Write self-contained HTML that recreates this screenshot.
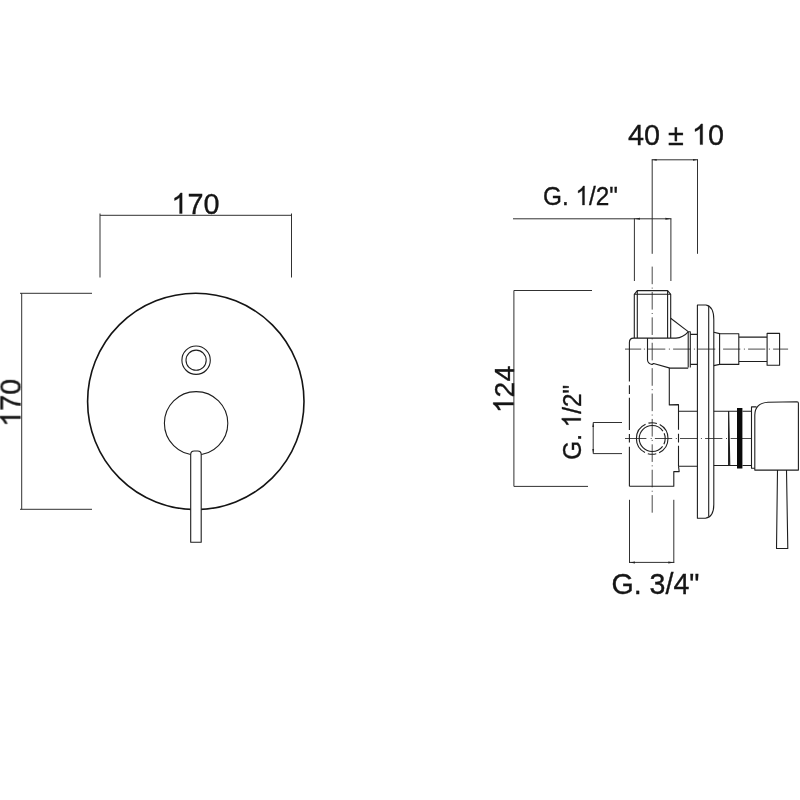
<!DOCTYPE html>
<html><head><meta charset="utf-8">
<style>
html,body{margin:0;padding:0;background:#fff;}
svg{display:block;}
text{font-family:"Liberation Sans",sans-serif;fill:#151515;stroke:#151515;stroke-width:0.35;}
#one{stroke:#151515;stroke-width:25;}
.o{stroke:#1e1e1e;stroke-width:1.1;fill:none;stroke-linecap:butt;stroke-linejoin:round;}
.w{fill:#fff;}
.d{stroke:#262626;stroke-width:0.95;fill:none;}
.c{stroke:#2a2a2a;stroke-width:0.85;fill:none;}
.a{fill:#222;stroke:none;}
</style></head><body>
<svg width="800" height="800" viewBox="0 0 800 800">
<rect width="800" height="800" fill="#fff"/>
<defs><path id="one" d="M763 0H583V1147Q518 1085 412.5 1023Q307 961 223 930V1104Q374 1175 487 1276Q600 1377 647 1472H763Z"/></defs>


<!-- ===== LEFT VIEW ===== -->
<g id="left">
<path class="d" d="M100 213.5V277.5M291.5 213.5V277.5M100 215.3H291.5"/>
<path class="d" d="M21.7 293.3V509.3M20 293.3H92M20 509.3H92"/>
<g opacity="0.999">
<g transform="translate(171.4,213.6)"><use href="#one" fill="#151515" transform="translate(0.000,0) scale(0.014063,-0.014063)"/><text x="16.017" y="0" font-size="28.8">70</text></g>
<g transform="translate(20.5,402.8) rotate(-90) translate(-24.025,0)"><use href="#one" fill="#151515" transform="translate(0.000,0) scale(0.014063,-0.014063)"/><text x="16.017" y="0" font-size="28.8">70</text></g>
</g>
<circle class="o" cx="195.8" cy="401.4" r="108.2" style="stroke-width:1.6;stroke:#141414"/>
<circle class="o" cx="196.1" cy="360.2" r="14.2"/>
<circle class="o" cx="196.1" cy="360.2" r="10.1"/>
<circle class="o" cx="196.1" cy="423.3" r="31.7"/>
<path class="o w" d="M190.7 542.2V454.5Q190.7 451 194.2 451H197.7Q201.2 451 201.2 454.5V542.2Z"/>
</g>

<!-- ===== RIGHT VIEW ===== -->
<g id="right">
<!-- dims -->
<g opacity="0.999">
<g transform="translate(628.06,144.6)"><text x="0" y="0" font-size="28.8" xml:space="preserve">40 ± </text><use href="#one" fill="#151515" transform="translate(63.840,0) scale(0.014063,-0.014063)"/><text x="79.86" y="0" font-size="28.8">0</text></g>
<g transform="translate(543,205) scale(0.9193,1)"><text x="0" y="0" font-size="26.5">G.</text><use href="#one" fill="#151515" transform="translate(35.330,0) scale(0.012939,-0.012939)"/><text x="50.07" y="0" font-size="26.5">/2"</text></g>
<g transform="translate(513.6,389.5) rotate(-90) translate(-23.69,0)"><use href="#one" fill="#151515" transform="translate(0.000,0) scale(0.013867,-0.013867)"/><text x="15.795" y="0" font-size="28.4">24</text></g>
<g transform="translate(580.8,422.3) rotate(-90) scale(0.9157,1) translate(-40.79,0)"><text x="0" y="0" font-size="26.5">G.</text><use href="#one" fill="#151515" transform="translate(35.330,0) scale(0.012939,-0.012939)"/><text x="50.07" y="0" font-size="26.5">/2"</text></g>
<text x="655.5" y="594" font-size="28.6" text-anchor="middle">G. 3/4"</text>
</g>
<path class="d" d="M651.8 159.8H697.9M652.2 159.4V253.8M697.5 159.4V253.8"/>
<path class="a" d="M652.2 159.8l4.5 -0.9v1.8zM697.5 159.8l-4.5 -0.9v1.8z"/>
<path class="d" d="M513 218.8H671.3M634.4 218.4V281M670.9 218.4V281"/>
<path class="a" d="M634.4 218.8l5.5 -1v2zM670.9 218.8l-5.5 -1v2z"/>
<path class="d" d="M513.9 290.5V486.4M513.9 290.5H592M513.9 486.4H588"/>
<path class="d" d="M593.2 422.5V453.6M593.2 422.5H622M593.2 453.6H622"/>
<path class="a" d="M593.2 422.5l-0.9 4.5h1.8zM593.2 453.6l-0.9 -4.5h1.8z"/>
<path class="d" d="M629.5 499.8V562.9M673.8 499.8V562.9M629.1 562.4H674.2"/>
<path class="a" d="M629.5 562.4l5.5 -1v2zM673.8 562.4l-5.5 -1v2z"/>

<!-- centre lines -->
<path class="c" d="M652.2 266.6V512.7" stroke-dasharray="17.6 3.4 1 3.39"/>
<path class="c" d="M625 349.1H641.2"/>
<path class="c" d="M643.9 349.1H788.1" stroke-dasharray="1 3.2 17.2 3.6"/>
<path class="c" d="M625 438.5H646.4"/>
<path class="c" d="M650.7 438.5H727" stroke-dasharray="1 3.2 17.3 3.6"/>
<path class="c" d="M730.6 438.5H751.4"/>

<!-- top pipe -->
<path class="o" d="M634.3 338V294.3L637.3 290.6H667.6L670.7 294.3V338"/>
<path class="o" d="M637.3 291V338M667.6 291V338M634.3 294.3H670.7"/>
<!-- body -->
<path class="o" d="M629.4 381.5V342.5Q629.4 338.1 633.5 338.1H676Q683 337.6 688.2 331.8"/>
<path class="o" d="M629.4 385.2V394M629.4 397.8V430M629.4 434V442.5M629.4 446.8V486.2"/>
<path class="o" d="M629.4 486.2H673.8V471.6H679.2L678.5 466.2"/>
<path class="o" d="M678.5 445.7V466.2M678.5 433.8V442.6M678.5 429.8V404.6L669.3 404.9V368.1"/>
<!-- diverter housing -->
<path class="o" d="M647.5 338.1V360Q647.8 363.6 652 364.5L653.6 363.5L670 368.1H688.2"/>
<path class="o" d="M670.7 318.2L688.2 331.6"/>
<path class="o" d="M688.2 367.5V331.8H690.3V367.5"/>
<path class="o" d="M690.3 334.4H697.3M690.3 364.4H697.3"/>
<!-- plate -->
<path class="o" d="M697.4 305H706Q713.8 306.5 713.8 319.5V504.5Q713.8 517 705.5 518.2H697.4Z"/>
<path class="o" d="M708.7 305.5V516.5"/>
<!-- diverter knob -->
<path class="o" d="M713.8 332.3L719.6 333.6V364.4L713.8 365.6"/>
<path class="o" d="M719.6 333.8H738.8V364.4H719.6M738.8 337.1H767.1M738.8 361.5H767.1M767.1 333.4H779.6V365.3H767.1Z"/>
<!-- cartridge -->
<path class="o" d="M678.5 411.2H697.4M678.5 466.2H697.4"/>
<path class="o" d="M713.8 411.2H737M713.8 465.5H737M728.6 411.2V465.5M728.7 411.2L729.8 465.5"/>
<rect x="737" y="408" width="5.4" height="60.5" fill="#0a0a0a"/>
<path class="o" d="M742.4 411.2H751.4M742.4 465.5H751.4"/>
<!-- handle -->
<path class="o" d="M756.5 406.9H751.5V468.2H754.8"/>
<path class="o" d="M754.8 470.1V415Q755 403 768 402.2L797 401.7Q798.4 401.8 798.4 403.2V470.1Z"/>
<path class="o" d="M777.5 470L776.5 548.5H787.8L786.5 470"/>
<!-- port circle -->
<circle class="o" cx="652.2" cy="438.5" r="13" stroke-dasharray="5.85 2.5 65 2.5 5.85 0"/>
<circle class="o" cx="652.2" cy="438.5" r="15.8" stroke-dasharray="35 3 8.64 3" stroke-dashoffset="17.5"/>
</g>
</svg>
</body></html>
